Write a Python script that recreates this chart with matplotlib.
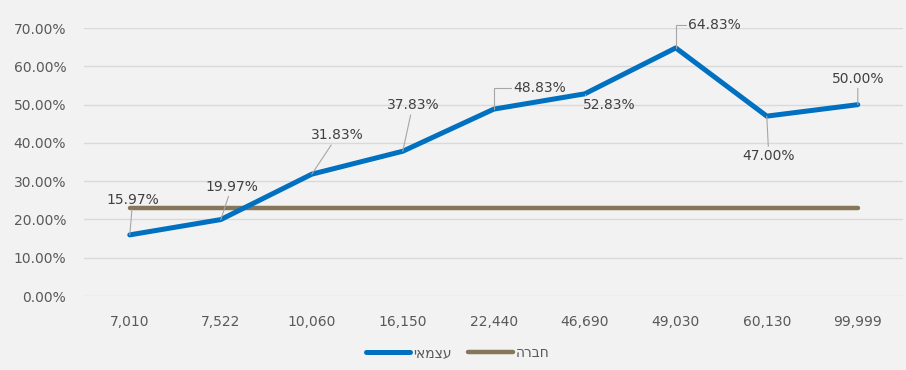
import numpy as np
import matplotlib.pyplot as plt
from matplotlib.ticker import PercentFormatter

categories = ['7,010', '7,522', '10,060', '16,150', '22,440', '46,690', '49,030', '60,130', '99,999']
self_employed = [15.97, 19.97, 31.83, 37.83, 48.83, 52.83, 64.83, 47.00, 50.00]
company = [23.0] * 9
series_names = ['עצמאי', 'חברה']

# label offsets (pixels) relative to each point
label_dx = [3, 11, 26, 10, 46, 24, 39, 2, 0]
label_dy = [35, 33, 39, 46, 21, -11, 23, -40, 26]
# which labels get an elbow leader line
elbow = [False, False, False, False, True, True, True, False, False]

plt.rcParams['font.family'] = ['DejaVu Sans']
fig, ax = plt.subplots(figsize=(9.06, 3.70), dpi=100)
fig.patch.set_facecolor('#F2F2F2')
ax.set_facecolor('#F2F2F2')

x = np.arange(len(categories))
# matplotlib draws left-to-right, so reverse the Hebrew strings for display
l1, = ax.plot(x, self_employed, color='#0070C0', lw=3.6, solid_capstyle='round',
              solid_joinstyle='round', label=series_names[0][::-1], zorder=3)
l2, = ax.plot(x, company, color='#857659', lw=3.2, solid_capstyle='round',
              label=series_names[1][::-1], zorder=2)

for i, v in enumerate(self_employed):
    props = dict(arrowstyle='-', color='#A6A6A6', lw=0.8, shrinkA=0, shrinkB=0)
    if elbow[i]:
        props['connectionstyle'] = 'angle,angleA=0,angleB=90,rad=0'
        props['relpos'] = (0, 0.5)
    ax.annotate('{:.2f}%'.format(v), xy=(i, v), xytext=(label_dx[i], label_dy[i]),
                textcoords='offset pixels', ha='center', va='center',
                fontsize=10, color='#404040', zorder=4, arrowprops=props)

ax.set_xlim(-0.5, len(categories) - 0.5)
ax.set_ylim(0, 70)
ax.set_yticks(np.arange(0, 71, 10))
ax.yaxis.set_major_formatter(PercentFormatter(decimals=2))
ax.set_xticks(x)
ax.set_xticklabels(categories)
ax.tick_params(axis='both', length=0, labelsize=10, labelcolor='#595959')
ax.tick_params(axis='x', pad=14)
ax.tick_params(axis='y', pad=13)
ax.grid(axis='y', color='#D9D9D9', lw=1)
ax.set_axisbelow(True)
for s in ax.spines.values():
    s.set_visible(False)

leg = fig.legend(handles=[l1, l2], loc='center', bbox_to_anchor=(0.505, 0.046),
                 ncol=2, frameon=False, fontsize=10, handlelength=3.2,
                 columnspacing=1.2, handletextpad=0.2)
for t in leg.get_texts():
    t.set_color('#595959')

plt.subplots_adjust(left=0.093, right=0.997, top=0.924, bottom=0.2)
plt.savefig('out.png', dpi=100, facecolor=fig.get_facecolor())
